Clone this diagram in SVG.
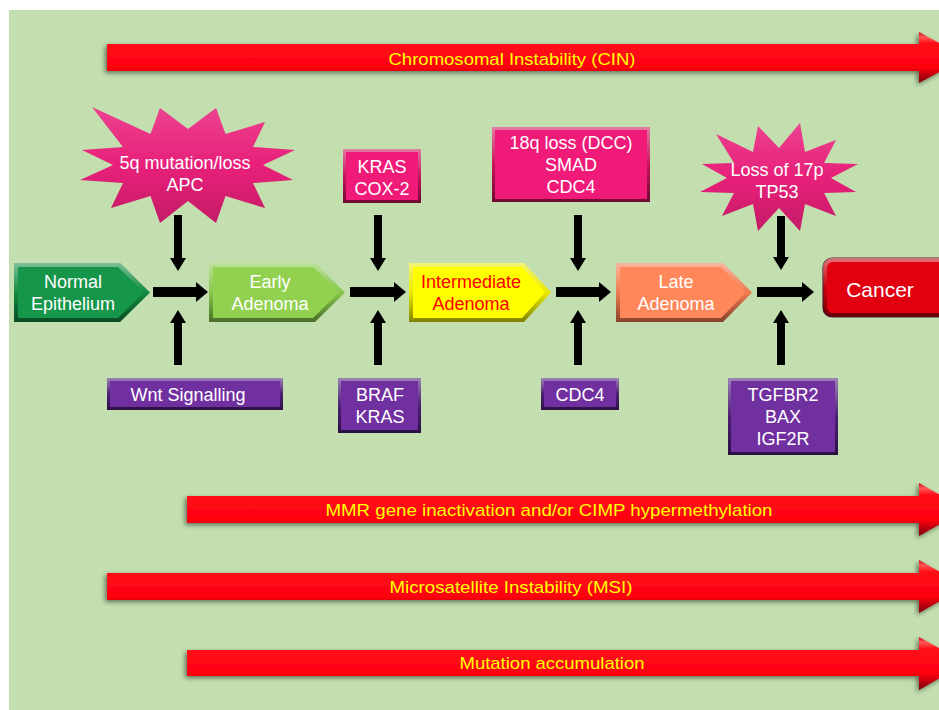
<svg xmlns="http://www.w3.org/2000/svg" width="939" height="710" viewBox="0 0 939 710">
<defs>
<style>
.t{font-family:"Liberation Sans",Arial,sans-serif;font-size:18px;text-anchor:middle;fill:#fff}
.y{font-family:"Liberation Sans",Arial,sans-serif;font-size:17px;text-anchor:middle;fill:#FFFF00}
.bar{fill:url(#gRed);filter:url(#sh)}
.conn{stroke:#000;fill:none}
.star{fill:#E8207A}
</style>
<linearGradient id="gRed" x1="0" y1="0" x2="0" y2="1">
<stop offset="0" stop-color="#C8000C"/><stop offset="0.1" stop-color="#FF5A5A"/><stop offset="0.22" stop-color="#FF1018"/><stop offset="0.7" stop-color="#FF0010"/><stop offset="0.82" stop-color="#C8000C"/><stop offset="1" stop-color="#7A0008"/>
</linearGradient>
<linearGradient id="bev" x1="0" y1="0" x2="0" y2="1">
<stop offset="0" stop-color="#fff" stop-opacity="0.45"/><stop offset="0.5" stop-color="#fff" stop-opacity="0"/><stop offset="0.5" stop-color="#000" stop-opacity="0"/><stop offset="1" stop-color="#000" stop-opacity="0.45"/>
</linearGradient>
<filter id="sh" x="-5%" y="-30%" width="110%" height="160%">
<feGaussianBlur in="SourceAlpha" stdDeviation="2.5"/><feOffset dx="-2" dy="2"/><feComponentTransfer><feFuncA type="linear" slope="0.5"/></feComponentTransfer>
<feMerge><feMergeNode/><feMergeNode in="SourceGraphic"/></feMerge>
</filter>
<marker id="ah" markerUnits="userSpaceOnUse" markerWidth="12" markerHeight="20" refX="0" refY="10" orient="auto"><path d="M0,0 L12,10 L0,20 z" fill="#000"/></marker>
<marker id="av" markerUnits="userSpaceOnUse" markerWidth="13" markerHeight="16" refX="0" refY="8" orient="auto"><path d="M0,0 L13,8 L0,16 z" fill="#000"/></marker>
</defs>
<rect x="0" y="0" width="939" height="710" fill="#fff"/>
<rect x="9" y="10" width="930" height="700" fill="#C3DFB0"/>

<g id="bar-cin">
<polygon class="bar" points="107,44 919,44 919,32 966,57.5 919,83 919,71 107,71"/>
<text class="y" x="512" y="65" textLength="247" lengthAdjust="spacingAndGlyphs">Chromosomal Instability (CIN)</text>
</g>
<g id="bar-mmr">
<polygon class="bar" points="187,496 919,496 919,483 966,509.5 919,536 919,523 187,523"/>
<text class="y" x="549" y="516" textLength="447" lengthAdjust="spacingAndGlyphs">MMR gene inactivation and/or CIMP hypermethylation</text>
</g>
<g id="bar-msi">
<polygon class="bar" points="107,573 919,573 919,560 966,586.5 919,613 919,600 107,600"/>
<text class="y" x="511" y="593" textLength="243" lengthAdjust="spacingAndGlyphs">Microsatellite Instability (MSI)</text>
</g>
<g id="bar-mut">
<polygon class="bar" points="187,650 919,650 919,637 966,663 919,690 919,676 187,676"/>
<text class="y" x="552" y="669" textLength="185" lengthAdjust="spacingAndGlyphs">Mutation accumulation</text>
</g>

<g id="connectors">
<line class="conn" stroke-width="10" x1="153" y1="292" x2="196" y2="292" marker-end="url(#ah)"/>
<line class="conn" stroke-width="10" x1="350" y1="292" x2="394" y2="292" marker-end="url(#ah)"/>
<line class="conn" stroke-width="10" x1="556" y1="292" x2="599" y2="292" marker-end="url(#ah)"/>
<line class="conn" stroke-width="10" x1="757" y1="292" x2="802" y2="292" marker-end="url(#ah)"/>
<line class="conn" stroke-width="8" x1="178" y1="215" x2="178" y2="258" marker-end="url(#av)"/>
<line class="conn" stroke-width="8" x1="378" y1="215" x2="378" y2="258" marker-end="url(#av)"/>
<line class="conn" stroke-width="8" x1="578" y1="215" x2="578" y2="258" marker-end="url(#av)"/>
<line class="conn" stroke-width="8" x1="781" y1="216" x2="781" y2="257" marker-end="url(#av)"/>
<line class="conn" stroke-width="8" x1="178" y1="365" x2="178" y2="323" marker-end="url(#av)"/>
<line class="conn" stroke-width="8" x1="378" y1="365" x2="378" y2="323" marker-end="url(#av)"/>
<line class="conn" stroke-width="8" x1="578" y1="365" x2="578" y2="323" marker-end="url(#av)"/>
<line class="conn" stroke-width="8" x1="781" y1="365" x2="781" y2="323" marker-end="url(#av)"/>
</g>

<g id="normal">
<polygon points="14,263 120,263 150,292.5 120,322 14,322" fill="#138A42"/>
<polygon points="14,263 120,263 150,292.5 120,322 14,322" fill="url(#bev)"/>
<polygon points="18,267 118,267 144,292.5 118,318 18,318" fill="#16964A"/>
<text class="t" x="73" y="288">Normal</text>
<text class="t" x="73" y="310">Epithelium</text>
</g>
<g id="early">
<polygon points="209,263 315,263 345,292.5 315,322 209,322" fill="#86C84A"/>
<polygon points="209,263 315,263 345,292.5 315,322 209,322" fill="url(#bev)"/>
<polygon points="213,267 313,267 339,292.5 313,318 213,318" fill="#92D050"/>
<text class="t" x="270" y="288">Early</text>
<text class="t" x="270" y="310">Adenoma</text>
</g>
<g id="intermediate">
<polygon points="409,263 524,263 551,292.5 524,322 409,322" fill="#EAEA00"/>
<polygon points="409,263 524,263 551,292.5 524,322 409,322" fill="url(#bev)"/>
<polygon points="413,267 522,267 545,292.5 522,318 413,318" fill="#FFFF00"/>
<text class="t" x="471" y="288" style="fill:#FF0000">Intermediate</text>
<text class="t" x="471" y="310" style="fill:#FF0000">Adenoma</text>
</g>
<g id="late">
<polygon points="616,263 723,263 752,292.5 723,322 616,322" fill="#F07A50"/>
<polygon points="616,263 723,263 752,292.5 723,322 616,322" fill="url(#bev)"/>
<polygon points="620,267 721,267 746,292.5 721,318 620,318" fill="#FF875A"/>
<text class="t" x="676" y="288">Late</text>
<text class="t" x="676" y="310">Adenoma</text>
</g>
<g id="cancer">
<rect x="823" y="258" width="130" height="59" rx="9" fill="#C8000C" stroke="#5A2030" stroke-width="1.2"/>
<rect x="823" y="258" width="130" height="59" rx="9" fill="url(#bev)"/>
<rect x="827" y="262" width="122" height="51" rx="6" fill="#E0000F"/>
<text class="t" x="880" y="297" style="font-size:21px">Cancer</text>
</g>

<g id="apc">
<polygon class="star" points="293,180 253,183 265,208 225.5,196 216,223 188,201 160,223 150.5,196 111,208 123,183 80,180 113,165 82,150 123,147 92,107 150.5,134 160,108 188,129 216,108 225.5,134 265,122 253,147 295,150 263,165"/>
<polygon points="293,180 253,183 265,208 225.5,196 216,223 188,201 160,223 150.5,196 111,208 123,183 80,180 113,165 82,150 123,147 92,107 150.5,134 160,108 188,129 216,108 225.5,134 265,122 253,147 295,150 263,165" fill="url(#bev)" opacity="0.35"/>
<text class="t" x="185" y="169">5q mutation/loss</text>
<text class="t" x="185" y="191">APC</text>
</g>
<g id="kras-cox2">
<rect x="343" y="149" width="78" height="54" fill="#C8145A"/>
<rect x="343" y="149" width="78" height="54" fill="url(#bev)"/>
<rect x="346" y="152" width="72" height="48" fill="#F01A78"/>
<text class="t" x="382" y="173">KRAS</text>
<text class="t" x="382" y="195">COX-2</text>
</g>
<g id="dcc">
<rect x="492" y="127" width="158" height="75" fill="#C8145A"/>
<rect x="492" y="127" width="158" height="75" fill="url(#bev)"/>
<rect x="495" y="130" width="152" height="69" fill="#F01A78"/>
<text class="t" x="571" y="149">18q loss (DCC)</text>
<text class="t" x="571" y="171">SMAD</text>
<text class="t" x="571" y="193">CDC4</text>
</g>
<g id="tp53">
<polygon class="star" points="856,192 824,193 836,216 805,204 800,231 779,208 758,231 753,204 722,216 734,193 700,192 727,178 702,164 734,163 716,134 753,152 758,126 779,148 800,123 805,152 836,140 824,163 858,164 831,178"/>
<polygon points="856,192 824,193 836,216 805,204 800,231 779,208 758,231 753,204 722,216 734,193 700,192 727,178 702,164 734,163 716,134 753,152 758,126 779,148 800,123 805,152 836,140 824,163 858,164 831,178" fill="url(#bev)" opacity="0.35"/>
<text class="t" x="777" y="176">Loss of 17p</text>
<text class="t" x="777" y="198">TP53</text>
</g>

<g id="wnt">
<rect x="107" y="378" width="176" height="32" fill="#4E1E78"/>
<rect x="107" y="378" width="176" height="32" fill="url(#bev)"/>
<rect x="110" y="381" width="170" height="26" fill="#7030A0"/>
<text class="t" x="188" y="401">Wnt Signalling</text>
</g>
<g id="braf">
<rect x="338" y="378" width="83" height="55" fill="#4E1E78"/>
<rect x="338" y="378" width="83" height="55" fill="url(#bev)"/>
<rect x="341" y="381" width="77" height="49" fill="#7030A0"/>
<text class="t" x="380" y="401">BRAF</text>
<text class="t" x="380" y="423">KRAS</text>
</g>
<g id="cdc4">
<rect x="541" y="378" width="78" height="32" fill="#4E1E78"/>
<rect x="541" y="378" width="78" height="32" fill="url(#bev)"/>
<rect x="544" y="381" width="72" height="26" fill="#7030A0"/>
<text class="t" x="580" y="401">CDC4</text>
</g>
<g id="tgfbr2">
<rect x="728" y="378" width="110" height="77" fill="#4E1E78"/>
<rect x="728" y="378" width="110" height="77" fill="url(#bev)"/>
<rect x="731" y="381" width="104" height="71" fill="#7030A0"/>
<text class="t" x="783" y="401">TGFBR2</text>
<text class="t" x="783" y="423">BAX</text>
<text class="t" x="783" y="445">IGF2R</text>
</g>
</svg>
